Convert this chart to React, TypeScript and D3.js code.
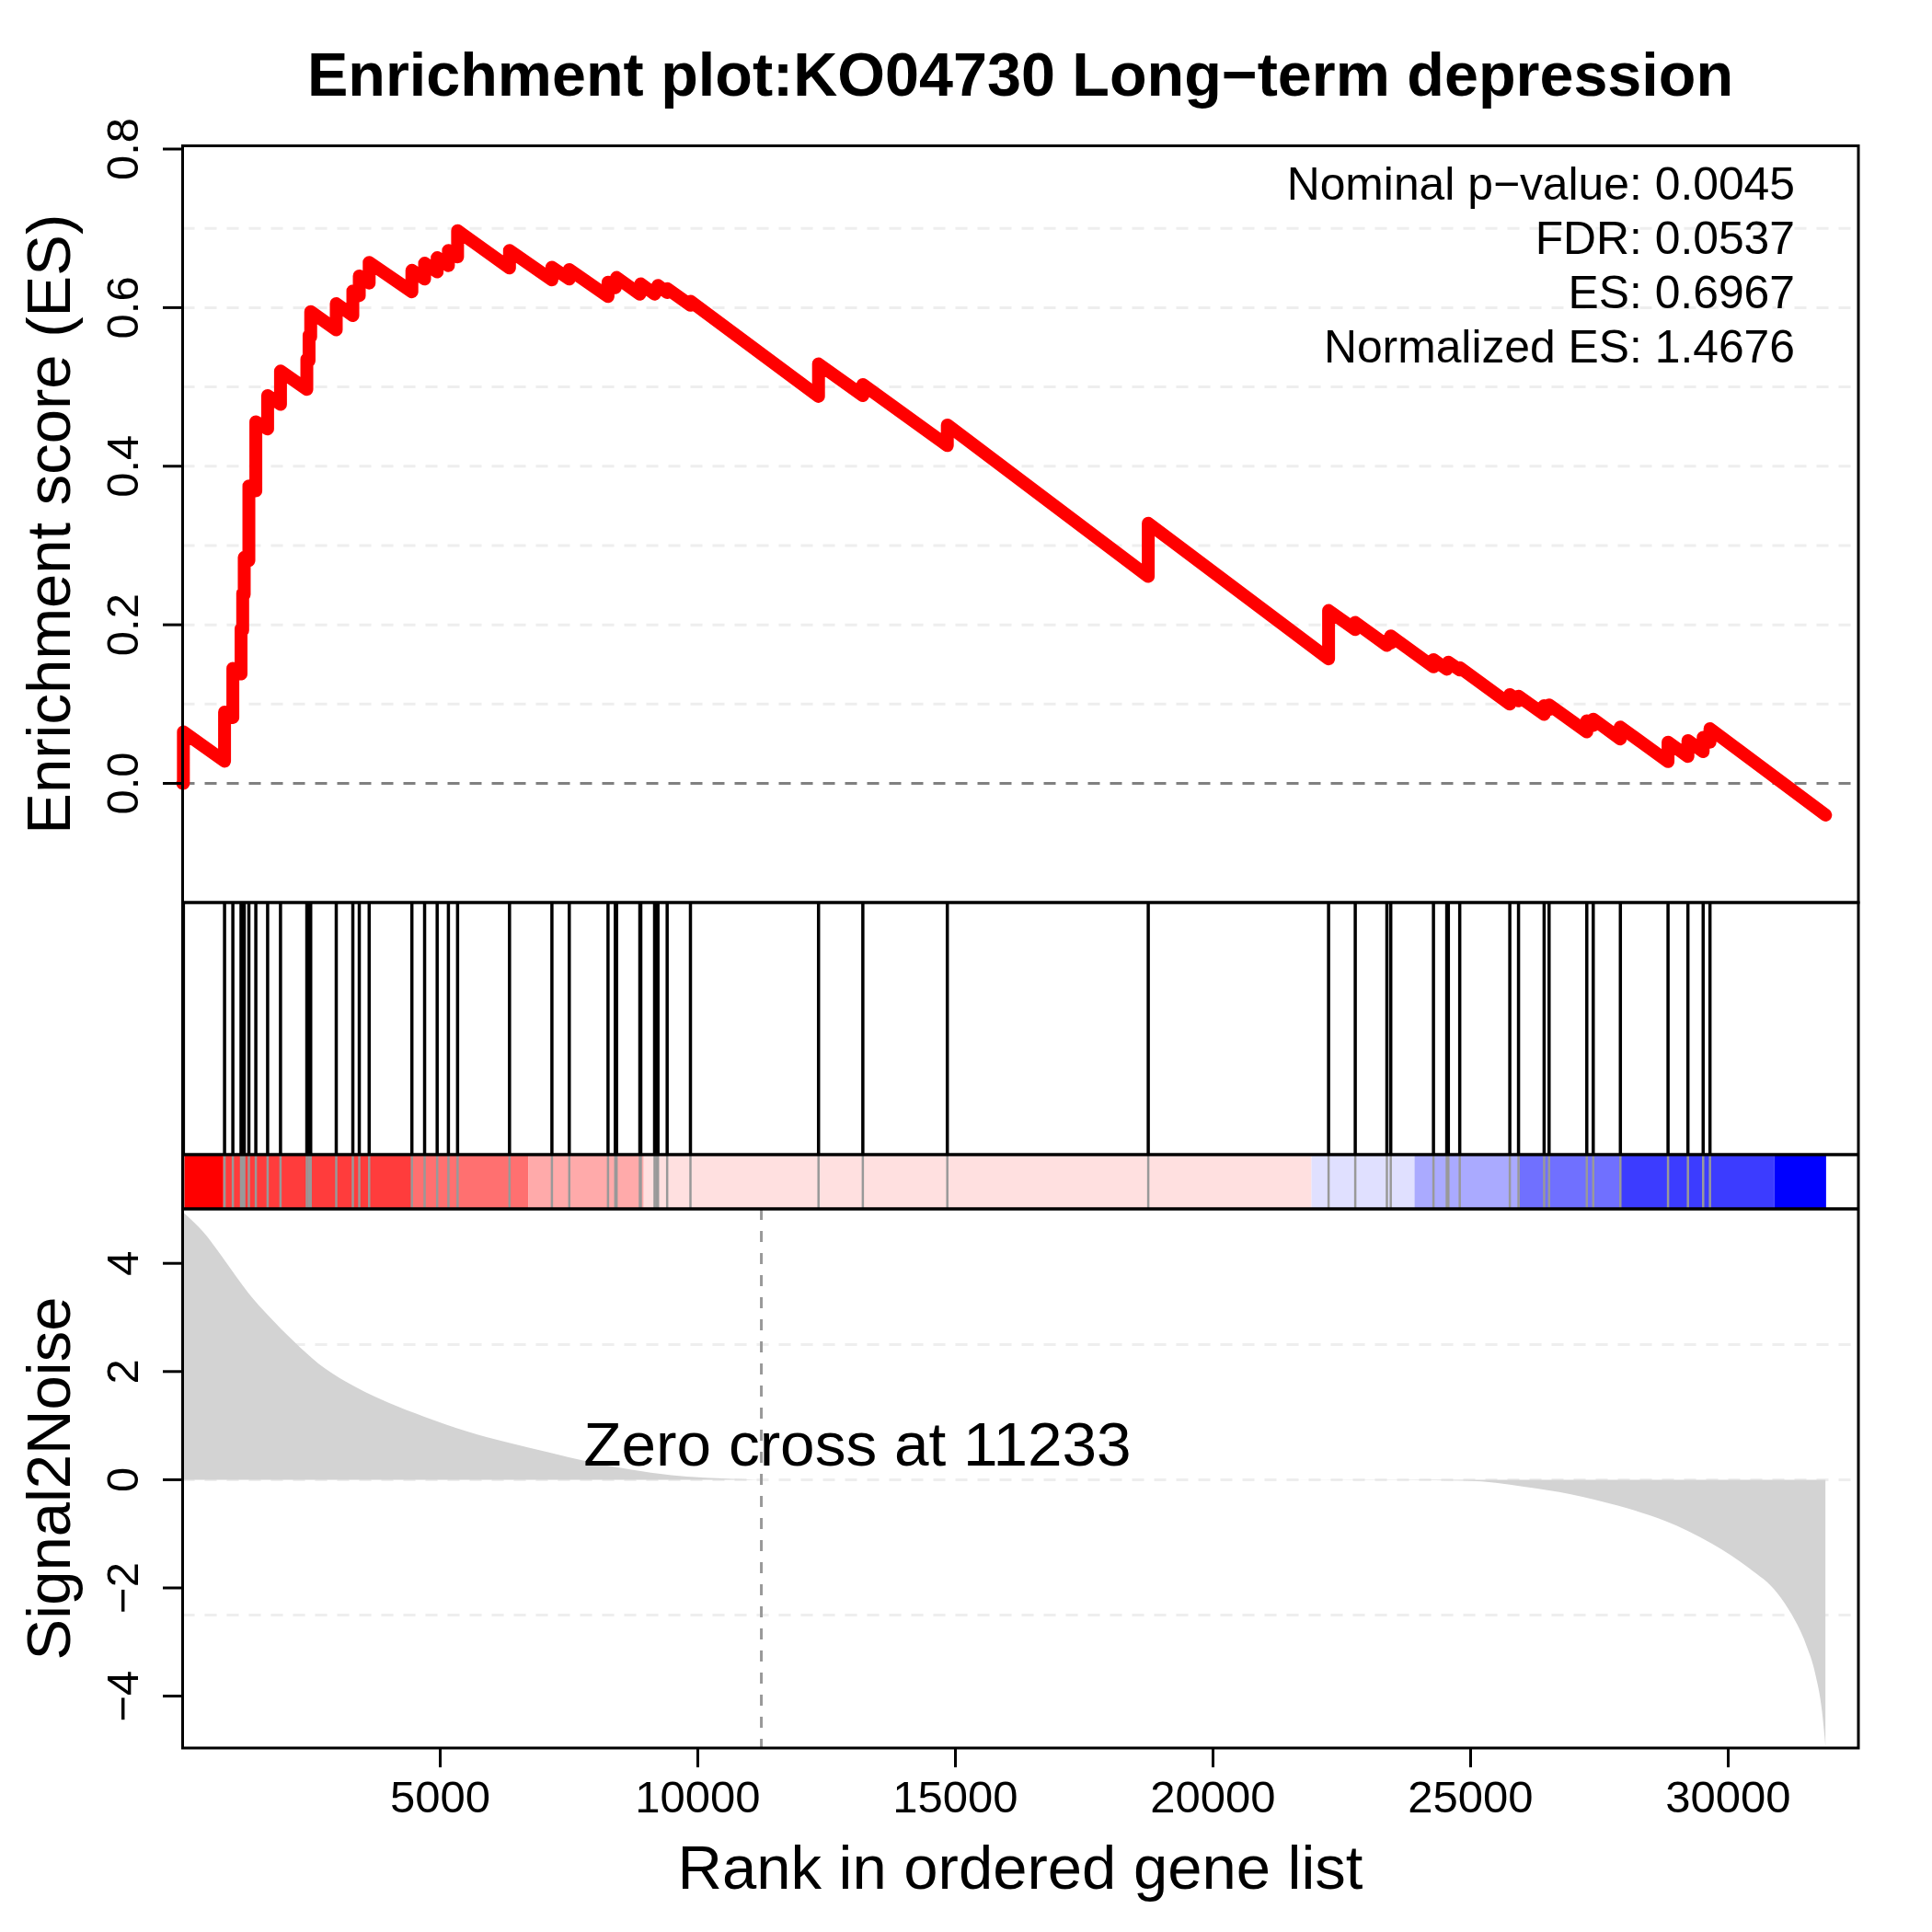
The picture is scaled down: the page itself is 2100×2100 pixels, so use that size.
import React from "react";
import * as d3 from "d3";

const width = 2100;
const height = 2100;
const font = "'Liberation Sans', Arial, Helvetica, sans-serif";

// panel edges (px)
const left = 198.5;
const right = 2020;
const esTop = 158.5;
const esBottom = 981;
const hitBottom = 1255;
const barBottom = 1314;
const s2nBottom = 1900;

const title = "Enrichment plot:KO04730 Long\u2212term depression";
const statLines = [
  "Nominal p\u2212value: 0.0045",
  "FDR: 0.0537",
  "ES: 0.6967",
  "Normalized ES: 1.4676",
];
const zeroCross = 11233;
const endRank = 31890;
const endES = -0.04;

// rank of every gene of the set in the ordered list
const hitRanks = [
  15, 814, 975, 1134, 1166, 1196, 1286, 1421, 1650, 1900, 2411, 2454, 2486,
  2982, 3304, 3429, 3621, 4450, 4697, 4941, 5159, 5337, 6345, 7168, 7505,
  8257, 8398, 8423, 8875, 8893, 9161, 9196, 9227, 9405, 9857, 12343, 13203,
  14843, 18743, 22243, 22761, 23375, 23450, 24279, 24537, 24568, 24789, 25761,
  25930, 26427, 26523, 27255, 27380, 27907, 28832, 29218, 29514, 29646,
];
// running ES just before / after each hit
const esBefore = [
  0, 0.028, 0.083, 0.138, 0.193, 0.238, 0.281, 0.369, 0.447, 0.478, 0.497,
  0.533, 0.563, 0.572, 0.59, 0.615, 0.631, 0.62, 0.636, 0.645, 0.653, 0.664,
  0.65, 0.635, 0.636, 0.614, 0.625, 0.631, 0.617, 0.623, 0.617, 0.62, 0.624,
  0.619, 0.603, 0.488, 0.489, 0.426, 0.261, 0.157, 0.194, 0.174, 0.177, 0.147,
  0.144, 0.149, 0.143, 0.1, 0.104, 0.087, 0.093, 0.065, 0.073, 0.056, 0.0275,
  0.034, 0.04, 0.052,
];
const esAfter = [
  0.065, 0.09, 0.145, 0.195, 0.24, 0.285, 0.375, 0.456, 0.489, 0.52, 0.535,
  0.565, 0.595, 0.605, 0.621, 0.64, 0.657, 0.647, 0.656, 0.663, 0.672, 0.697,
  0.672, 0.651, 0.648, 0.632, 0.632, 0.638, 0.624, 0.63, 0.622, 0.625, 0.628,
  0.624, 0.608, 0.529, 0.503, 0.452, 0.328, 0.218, 0.203, 0.18, 0.186, 0.156,
  0.15, 0.153, 0.146, 0.112, 0.11, 0.098, 0.099, 0.079, 0.081, 0.071, 0.052,
  0.054, 0.058, 0.069,
];

// ranked list metric (Signal2Noise)
const s2nRanks = [
  1, 400, 760, 1036, 1277, 1677, 2154, 2632, 3191, 3909, 4705, 5500, 6300,
  7096, 7893, 8691, 9489, 10679, 11233, 23000, 24946, 26036, 26946, 27857,
  28768, 29679, 30411, 30957, 31232, 31500, 31688, 31821, 31887,
];
const s2nValues = [
  4.95, 4.58, 4.13, 3.76, 3.45, 3.02, 2.56, 2.15, 1.8, 1.46, 1.16, 0.9, 0.69,
  0.51, 0.33, 0.19, 0.085, 0.015, 0, -0.005, -0.02, -0.13, -0.27, -0.48, -0.76,
  -1.18, -1.64, -2.1, -2.49, -3.02, -3.58, -4.28, -4.92,
];

// heat bar under the hits
const barBreaks = [
  0, 790, 4446, 6714, 8950, 21911, 23911, 25946, 27911, 30893, 31900,
];
const barColors = [
  "#FF0000", "#FF3C3C", "#FF7070", "#FFAAAA", "#FFE0E0",
  "#E0E0FF", "#AAAAFF", "#7070FF", "#3C3CFF", "#0000FF",
];

const esTicks = [0, 0.2, 0.4, 0.6, 0.8];
const esGrid = [0.1, 0.2, 0.3, 0.4, 0.5, 0.6, 0.7];
const s2nTicks = [-4, -2, 0, 2, 4];
const s2nGrid = [-2.5, 2.5];
const rankTicks = [5000, 10000, 15000, 20000, 25000, 30000];

const x = d3.scaleLinear().domain([0, 32527]).range([left, right]);
const yES = d3.scaleLinear().domain([0, 0.8]).range([851.5, 162]);
const yS = d3.scaleLinear().domain([-4, 4]).range([1843.6, 1373.2]);

const fmtMinus = (v: number) => (v < 0 ? "\u2212" + Math.abs(v) : String(v));

export default function App() {
  const esPoints: [number, number][] = [[1, 0]];
  hitRanks.forEach((r, i) => {
    esPoints.push([r, esBefore[i]]);
    esPoints.push([r, esAfter[i]]);
  });
  esPoints.push([endRank, endES]);

  const esLine = d3
    .line<[number, number]>()
    .x((d) => x(d[0]))
    .y((d) => yES(d[1]))(esPoints);

  const s2nData = s2nRanks.map((r, i) => [r, s2nValues[i]] as [number, number]);
  const s2nArea = d3
    .area<[number, number]>()
    .x((d) => x(d[0]))
    .y0(yS(0))
    .y1((d) => yS(d[1]))
    .curve(d3.curveMonotoneX)(s2nData);

  return (
    <svg
      width={width}
      height={height}
      style={{ position: "absolute", left: 0, top: 0, background: "#fff" }}
      fontFamily={font}
    >
      <rect x={0} y={0} width={width} height={height} fill="#fff" />

      <text x={1109} y={104} textAnchor="middle" fontSize={66.5} fontWeight="bold">
        {title}
      </text>

      {/* ES panel */}
      {esGrid.map((v) => (
        <line key={v} x1={left} x2={right} y1={yES(v)} y2={yES(v)}
          stroke="#EEEEEE" strokeWidth={3} strokeDasharray="13 11" />
      ))}
      <line x1={left} x2={right} y1={yES(0)} y2={yES(0)}
        stroke="#808080" strokeWidth={3} strokeDasharray="13 11" />
      <path d={esLine || ""} fill="none" stroke="#FF0000" strokeWidth={14}
        strokeLinejoin="round" strokeLinecap="round" />
      {statLines.map((s, i) => (
        <text key={s} x={1951} y={217 + i * 59} textAnchor="end" fontSize={49.8}>
          {s}
        </text>
      ))}
      <rect x={left} y={esTop} width={right - left} height={esBottom - esTop}
        fill="none" stroke="#000" strokeWidth={3} />
      {esTicks.map((v) => (
        <g key={v}>
          <line x1={177} x2={left} y1={yES(v)} y2={yES(v)} stroke="#000" strokeWidth={3} />
          <text transform={`translate(150,${yES(v)}) rotate(-90)`} textAnchor="middle" fontSize={49}>
            {v.toFixed(1)}
          </text>
        </g>
      ))}
      <text transform={`translate(76,${(esTop + esBottom) / 2}) rotate(-90)`}
        textAnchor="middle" fontSize={67}>
        Enrichment score (ES)
      </text>

      {/* hits */}
      {hitRanks.map((r) => (
        <line key={"h" + r} x1={x(r)} x2={x(r)} y1={esBottom} y2={hitBottom}
          stroke="#000" strokeWidth={3.5} />
      ))}

      {/* heat bar */}
      {barColors.map((c, i) => (
        <rect key={c} x={x(barBreaks[i])} y={hitBottom}
          width={x(barBreaks[i + 1]) - x(barBreaks[i])} height={barBottom - hitBottom} fill={c} />
      ))}
      {hitRanks.map((r) => (
        <line key={"b" + r} x1={x(r)} x2={x(r)} y1={hitBottom} y2={barBottom}
          stroke="#999999" strokeWidth={2.5} />
      ))}
      <line x1={left} x2={right} y1={hitBottom} y2={hitBottom} stroke="#000" strokeWidth={3.5} />

      {/* Signal2Noise panel */}
      {s2nGrid.map((v) => (
        <line key={v} x1={left} x2={right} y1={yS(v)} y2={yS(v)}
          stroke="#EEEEEE" strokeWidth={3} strokeDasharray="13 11" />
      ))}
      <line x1={left} x2={right} y1={yS(0)} y2={yS(0)}
        stroke="#EEEEEE" strokeWidth={3} strokeDasharray="13 11" />
      <path d={s2nArea || ""} fill="#D3D3D3" />
      <line x1={x(zeroCross)} x2={x(zeroCross)} y1={barBottom} y2={s2nBottom}
        stroke="#999999" strokeWidth={3} strokeDasharray="12 12" />
      <text x={932} y={1593} textAnchor="middle" fontSize={67.5}>
        {"Zero cross at " + zeroCross}
      </text>
      <rect x={left} y={esBottom} width={right - left} height={s2nBottom - esBottom}
        fill="none" stroke="#000" strokeWidth={3} />
      <line x1={left} x2={right} y1={barBottom} y2={barBottom} stroke="#000" strokeWidth={3.5} />
      {s2nTicks.map((v) => (
        <g key={v}>
          <line x1={177} x2={left} y1={yS(v)} y2={yS(v)} stroke="#000" strokeWidth={3} />
          <text transform={`translate(150,${yS(v)}) rotate(-90)`} textAnchor="middle" fontSize={49}>
            {fmtMinus(v)}
          </text>
        </g>
      ))}
      <text transform={`translate(76,${(barBottom + s2nBottom) / 2}) rotate(-90)`}
        textAnchor="middle" fontSize={67}>
        Signal2Noise
      </text>

      {/* rank axis */}
      {rankTicks.map((r) => (
        <g key={r}>
          <line x1={x(r)} x2={x(r)} y1={s2nBottom} y2={s2nBottom + 21} stroke="#000" strokeWidth={3} />
          <text x={x(r)} y={1970} textAnchor="middle" fontSize={49}>
            {r}
          </text>
        </g>
      ))}
      <text x={1109} y={2053} textAnchor="middle" fontSize={67}>
        Rank in ordered gene list
      </text>
    </svg>
  );
}
